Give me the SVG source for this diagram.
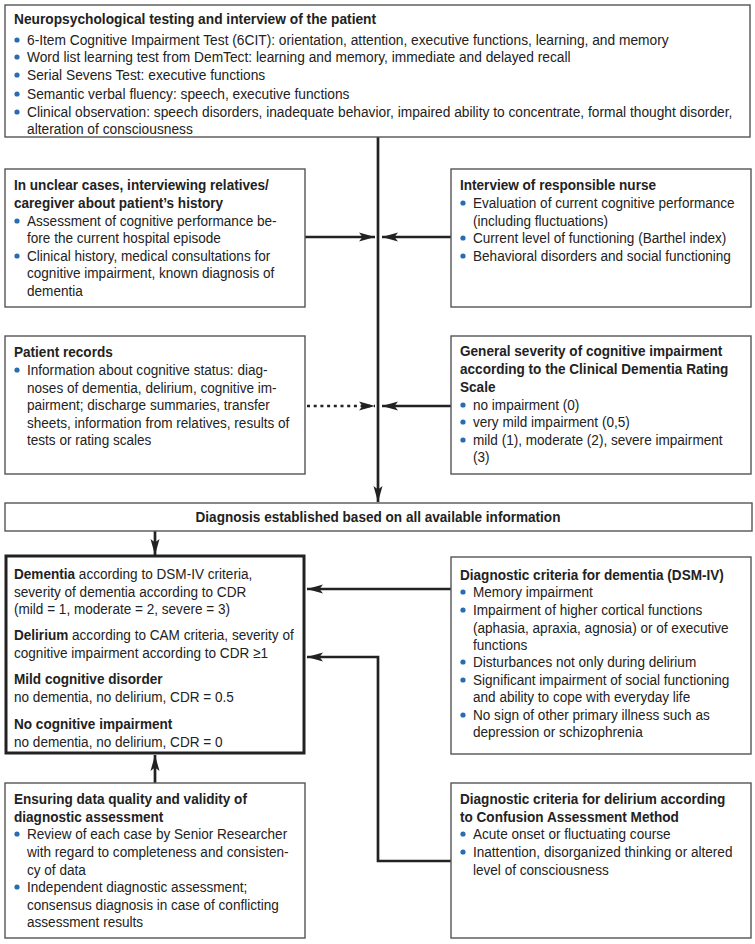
<svg xmlns="http://www.w3.org/2000/svg" width="755" height="944" viewBox="0 0 755 944">
<defs>
<style>
.box{fill:#fff;stroke:#555;stroke-width:1.4}
.thick{fill:#fff;stroke:#222;stroke-width:3}
text{font-family:"Liberation Sans",Arial,sans-serif;font-size:15px;fill:#222;transform-box:fill-box;transform-origin:0 0;transform:scaleX(0.905)}
#neuro text{transform:scaleX(0.918)}
text.c{transform-origin:50% 0}
.b{font-weight:bold}
.dot{fill:#2a6cb0}
.con{fill:none;stroke:#222;stroke-width:2.7}
.dash{fill:none;stroke:#222;stroke-width:2.7;stroke-dasharray:3 3.7}
</style>
<marker id="ah" markerWidth="16" markerHeight="10" refX="16" refY="5" orient="auto" markerUnits="userSpaceOnUse">
<path d="M0,0.5 L16,5 L0,9.5 L3.5,5 Z" fill="#222"/>
</marker>
</defs>

<g id="connectors">
<path class="con" d="M378,137 V502" marker-end="url(#ah)"/>
<path class="con" d="M305,237 H375" marker-end="url(#ah)"/>
<path class="con" d="M451,237 H382" marker-end="url(#ah)"/>
<path class="dash" d="M307,406 H375" marker-end="url(#ah)"/>
<path class="con" d="M451,406 H382" marker-end="url(#ah)"/>
<path class="con" d="M155,531 V555" marker-end="url(#ah)"/>
<path class="con" d="M451,589 H307" marker-end="url(#ah)"/>
<path class="con" d="M451,861 H378 V657 H307" marker-end="url(#ah)"/>
<path class="con" d="M155,783 V755" marker-end="url(#ah)"/>
</g>

<g id="neuro">
<rect class="box" x="5" y="5" width="745" height="132"/>
<text class="b" x="14" y="24">Neuropsychological testing and interview of the patient</text>
<circle class="dot" cx="17" cy="40" r="2.6"/><text x="27" y="45"> 6-Item Cognitive Impairment Test (6CIT): orientation, attention, executive functions, learning, and memory</text>
<circle class="dot" cx="17" cy="57" r="2.6"/><text x="27" y="62">Word list learning test from DemTect: learning and memory, immediate and delayed recall</text>
<circle class="dot" cx="17" cy="75" r="2.6"/><text x="27" y="80">Serial Sevens Test: executive functions</text>
<circle class="dot" cx="17" cy="94" r="2.6"/><text x="27" y="99">Semantic verbal fluency: speech, executive functions</text>
<circle class="dot" cx="17" cy="112" r="2.6"/><text x="27" y="117">Clinical observation: speech disorders, inadequate behavior, impaired ability to concentrate, formal thought disorder,</text>
<text x="27" y="134">alteration of consciousness</text>
</g>

<g id="relatives">
<rect class="box" x="5" y="169" width="300" height="138"/>
<text class="b" x="14" y="190">In unclear cases, interviewing relatives/</text>
<text class="b" x="14" y="208">caregiver about patient’s history</text>
<circle class="dot" cx="17" cy="221" r="2.6"/><text x="27" y="226">Assessment of cognitive performance be-</text>
<text x="27" y="243">fore the current hospital episode</text>
<circle class="dot" cx="17" cy="256" r="2.6"/><text x="27" y="261">Clinical history, medical consultations for</text>
<text x="27" y="278">cognitive impairment, known diagnosis of</text>
<text x="27" y="296">dementia</text>
</g>

<g id="nurse">
<rect class="box" x="451" y="169" width="300" height="138"/>
<text class="b" x="460" y="190">Interview of responsible nurse</text>
<circle class="dot" cx="463" cy="203" r="2.6"/><text x="473" y="208">Evaluation of current cognitive performance</text>
<text x="473" y="226">(including fluctuations)</text>
<circle class="dot" cx="463" cy="238" r="2.6"/><text x="473" y="243">Current level of functioning (Barthel index)</text>
<circle class="dot" cx="463" cy="256" r="2.6"/><text x="473" y="261">Behavioral disorders and social functioning</text>
</g>

<g id="records">
<rect class="box" x="5" y="336" width="300" height="138"/>
<text class="b" x="14" y="357">Patient records</text>
<circle class="dot" cx="17" cy="370" r="2.6"/><text x="27" y="375">Information about cognitive status: diag-</text>
<text x="27" y="393">noses of dementia, delirium, cognitive im-</text>
<text x="27" y="410">pairment; discharge summaries, transfer</text>
<text x="27" y="428">sheets, information from relatives, results of</text>
<text x="27" y="445">tests or rating scales</text>
</g>

<g id="cdr">
<rect class="box" x="451" y="336" width="300" height="138"/>
<text class="b" x="460" y="356">General severity of cognitive impairment</text>
<text class="b" x="460" y="374">according to the Clinical Dementia Rating</text>
<text class="b" x="460" y="392">Scale</text>
<circle class="dot" cx="463" cy="405" r="2.6"/><text x="473" y="410">no impairment (0)</text>
<circle class="dot" cx="463" cy="422" r="2.6"/><text x="473" y="427">very mild impairment (0,5)</text>
<circle class="dot" cx="463" cy="440" r="2.6"/><text x="473" y="445">mild (1), moderate (2), severe impairment</text>
<text x="473" y="462">(3)</text>
</g>

<g id="diagnosis">
<rect class="box" x="5" y="503" width="747" height="28"/>
<text class="b c" x="378" y="522" text-anchor="middle">Diagnosis established based on all available information</text>
</g>

<g id="result">
<rect class="thick" x="6" y="556" width="298" height="197"/>
<text x="14" y="579"><tspan class="b">Dementia</tspan> according to DSM-IV criteria,</text>
<text x="14" y="597">severity of dementia according to CDR</text>
<text x="14" y="614">(mild = 1, moderate = 2, severe = 3)</text>
<text x="14" y="640"><tspan class="b">Delirium</tspan> according to CAM criteria, severity of</text>
<text x="14" y="658">cognitive impairment according to CDR ≥1</text>
<text class="b" x="14" y="684">Mild cognitive disorder</text>
<text x="14" y="702">no dementia, no delirium, CDR = 0.5</text>
<text class="b" x="14" y="729">No cognitive impairment</text>
<text x="14" y="747">no dementia, no delirium, CDR = 0</text>
</g>

<g id="dsm">
<rect class="box" x="451" y="557" width="300" height="197"/>
<text class="b" x="460" y="580">Diagnostic criteria for dementia (DSM-IV)</text>
<circle class="dot" cx="463" cy="592" r="2.6"/><text x="473" y="597">Memory impairment</text>
<circle class="dot" cx="463" cy="610" r="2.6"/><text x="473" y="615">Impairment of higher cortical functions</text>
<text x="473" y="633">(aphasia, apraxia, agnosia) or of executive</text>
<text x="473" y="650">functions</text>
<circle class="dot" cx="463" cy="662" r="2.6"/><text x="473" y="667">Disturbances not only during delirium</text>
<circle class="dot" cx="463" cy="680" r="2.6"/><text x="473" y="685">Significant impairment of social functioning</text>
<text x="473" y="702">and ability to cope with everyday life</text>
<circle class="dot" cx="463" cy="715" r="2.6"/><text x="473" y="720">No sign of other primary illness such as</text>
<text x="473" y="737">depression or schizophrenia</text>
</g>

<g id="quality">
<rect class="box" x="5" y="783" width="300" height="155"/>
<text class="b" x="14" y="804">Ensuring data quality and validity of</text>
<text class="b" x="14" y="822">diagnostic assessment</text>
<circle class="dot" cx="17" cy="834" r="2.6"/><text x="27" y="839">Review of each case by Senior Researcher</text>
<text x="27" y="857">with regard to completeness and consisten-</text>
<text x="27" y="875">cy of data</text>
<circle class="dot" cx="17" cy="887" r="2.6"/><text x="27" y="892">Independent diagnostic assessment;</text>
<text x="27" y="910">consensus diagnosis in case of conflicting</text>
<text x="27" y="927">assessment results</text>
</g>

<g id="cam">
<rect class="box" x="451" y="783" width="300" height="155"/>
<text class="b" x="460" y="804">Diagnostic criteria for delirium according</text>
<text class="b" x="460" y="822">to Confusion Assessment Method</text>
<circle class="dot" cx="463" cy="834" r="2.6"/><text x="473" y="839">Acute onset or fluctuating course</text>
<circle class="dot" cx="463" cy="852" r="2.6"/><text x="473" y="857">Inattention, disorganized thinking or altered</text>
<text x="473" y="875">level of consciousness</text>
</g>
</svg>
